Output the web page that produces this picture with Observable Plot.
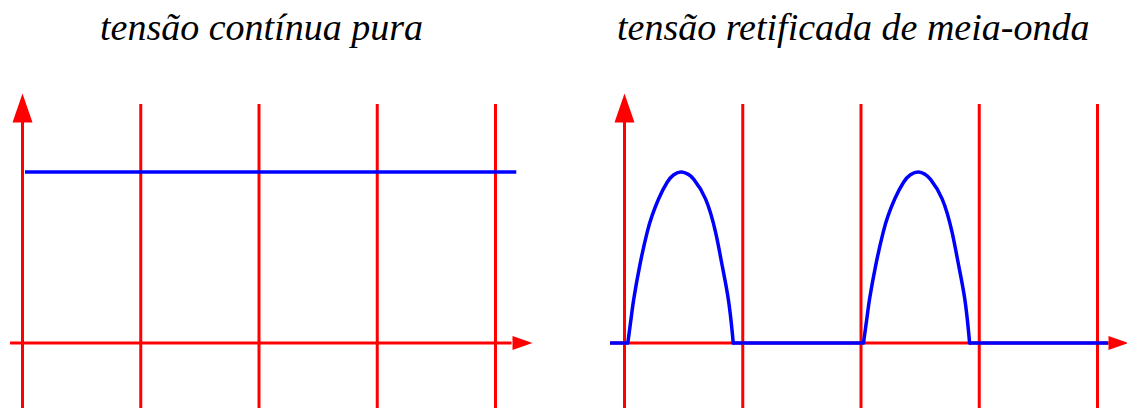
<!DOCTYPE html>
<html><head><meta charset="utf-8">
<script src="https://cdn.jsdelivr.net/npm/d3@7"></script>
<script src="https://cdn.jsdelivr.net/npm/@observablehq/plot@0.6"></script>
<style>
body{margin:0;background:#fff}
#wrap{position:relative;width:1127px;height:408px;overflow:hidden;background:#fff}
.title{position:absolute;top:8px;font-family:'Liberation Serif','Times New Roman',serif;font-style:italic;font-size:38px;line-height:38px;white-space:nowrap;color:#000}
.panel{position:absolute;top:60px}
</style></head><body><div id="wrap"></div>
<script>
// titles
const titles = ["tensão contínua pura", "tensão retificada de meia-onda"];
// vertical grid lines (time divisions)
const gridX = [1, 2, 3, 4];
// left panel: pure DC level
const dcLevel = [1];
const dcStart = 0.025, dcEnd = 4.18;
// right panel: half-wave rectified arches (time, value)
const arch1T = [0.028,0.059,0.079,0.129,0.192,0.234,0.290,0.361,0.417,0.482,0.540,0.586,0.685,0.770,0.826,0.877,0.911,0.919];
const arch1V = [0,0.161,0.26,0.453,0.648,0.746,0.845,0.940,0.984,1.0,0.986,0.957,0.843,0.648,0.453,0.260,0.064,0];
const arch2T = [2.021,2.053,2.073,2.124,2.188,2.230,2.287,2.360,2.418,2.486,2.543,2.588,2.686,2.770,2.826,2.877,2.910,2.918];
const arch2V = [0,0.161,0.26,0.453,0.648,0.746,0.845,0.940,0.984,1.0,0.986,0.957,0.843,0.648,0.453,0.260,0.064,0];
// right panel: zero segments between arches (start, end)
const flatStart = [-0.118, 0.919, 2.918];
const flatEnd   = [0.028, 2.021, 4.093];

const RED = "#ff0000", BLUE = "#0000ff";
const upArrow = {draw(ctx){ctx.moveTo(0,0);ctx.lineTo(-10,29);ctx.lineTo(10,29);ctx.closePath();}};
const rightArrow = {draw(ctx){ctx.moveTo(0,0);ctx.lineTo(-20,-7);ctx.lineTo(-20,7);ctx.closePath();}};

const wrap = document.getElementById("wrap");
const titleLeft = [100, 617];
titles.forEach((t,i)=>{const d=document.createElement("div");d.className="title";d.style.left=titleLeft[i]+"px";d.textContent=t;wrap.appendChild(d);});

const common = {
  height: 348, marginTop: 111.5, marginBottom: 65.5,
  x: {domain: [0, 4], axis: null},
  y: {domain: [0, 1], axis: null},
  style: "background: transparent; overflow: visible; max-width: none;"
};
const gridTop = 1.395, axisTop = 1.3, arrowTip = 1.459, bottom = -0.5;

function axesMarks(xStart, xLineEnd, xTip) {
  return [
    Plot.ruleX(gridX, {x: d => d, y1: bottom, y2: gridTop, stroke: RED, strokeWidth: 3}),
    Plot.ruleX([0], {x: d => d, y1: bottom, y2: axisTop, stroke: RED, strokeWidth: 3}),
    Plot.dot([0], {x: d => d, y: arrowTip, symbol: upArrow, fill: RED, stroke: "none"}),
    Plot.ruleY([0], {y: d => d, x1: xStart, x2: xLineEnd, stroke: RED, strokeWidth: 3}),
    Plot.dot([0], {x: xTip, y: d => d, symbol: rightArrow, fill: RED, stroke: "none"})
  ];
}

const left = Plot.plot({
  ...common, width: 563, marginLeft: 22, marginRight: 68,
  marks: [
    ...axesMarks(-0.101, 4.14, 4.313),
    Plot.ruleY(dcLevel, {y: d => d, x1: dcStart, x2: dcEnd, stroke: BLUE, strokeWidth: 3.5})
  ]
});

const arch1 = arch1T.map((t,i)=>({t, v: arch1V[i]}));
const arch2 = arch2T.map((t,i)=>({t, v: arch2V[i]}));
const flats = flatStart.map((s,i)=>({s, e: flatEnd[i]}));

const right = Plot.plot({
  ...common, width: 564, marginLeft: 61, marginRight: 30,
  marks: [
    ...axesMarks(-0.118, 4.1, 4.262),
    Plot.ruleY(flats, {y: 0, x1: "s", x2: "e", stroke: BLUE, strokeWidth: 3.5}),
    Plot.line(arch1, {x: "t", y: "v", curve: "natural", stroke: BLUE, strokeWidth: 3.5}),
    Plot.line(arch2, {x: "t", y: "v", curve: "natural", stroke: BLUE, strokeWidth: 3.5})
  ]
});

const p1 = document.createElement("div"); p1.className = "panel"; p1.style.left = "0px"; p1.appendChild(left);
const p2 = document.createElement("div"); p2.className = "panel"; p2.style.left = "563px"; p2.appendChild(right);
wrap.appendChild(p1); wrap.appendChild(p2);
</script></body></html>
